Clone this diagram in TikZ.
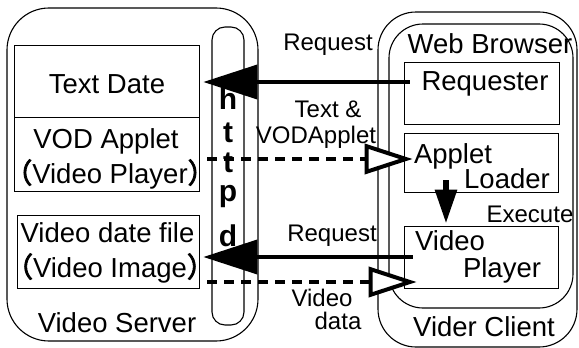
\documentclass[tikz,border=0pt]{standalone}
\usepackage{fontspec}
\setmainfont{Liberation Sans}
\newfontfamily\cjk[AutoFakeBold=3]{Noto Sans CJK SC}
\usetikzlibrary{arrows.meta}

\newcommand{\lparen}{{\cjk\bfseries （}}
\newcommand{\rparen}{{\cjk\bfseries ）}}

\tikzset{
  box/.style={draw, line width=0.8pt, inner sep=0pt},
  frame/.style={draw, line width=1.1pt, inner sep=0pt},
  big/.style={inner sep=0pt, anchor=base, font=\fontsize{27.5pt}{33pt}\selectfont},
  lbl/.style={inner sep=0pt, anchor=base, font=\fontsize{24pt}{29pt}\selectfont},
  httpdletter/.style={inner sep=0pt, anchor=base, font=\bfseries\fontsize{30pt}{36pt}\selectfont},
  solidarrow/.style={line width=4pt, -{Triangle[length=54pt,width=34pt]}},
  openarrow/.style={line width=4pt, dash pattern=on 10pt off 7pt,
    -{Triangle[open,fill=white,length=48pt,width=30pt,line width=4pt]}},
  execarrow/.style={line width=6pt, -{Triangle[length=34pt,width=21pt]}}
}

\begin{document}
\begin{tikzpicture}[x=1pt,y=-1pt]
\useasboundingbox (0,0) rectangle (579,348);

% server side
\node[frame, rounded corners=42pt, minimum width=251pt, minimum height=333pt] (server) at (132.5,174.5) {};
\node[frame, rounded corners=13pt, minimum width=32pt, minimum height=298pt] (httpd) at (228,176) {};
\node[box, minimum width=185pt, minimum height=72pt] (td) at (106.5,81) {};
\node[box, minimum width=185pt, minimum height=74pt] (vod) at (106.5,154) {};
\node[box, minimum width=182pt, minimum height=73pt] (vdf) at (108,251.5) {};

\node[big] (tdtext) at (107,93) {Text Date};
\node[big] (vodtext1) at (106,148) {VOD Applet};
\node[big] (vodtext2) at (110,183) {\lparen Video Player\rparen};
\node[big] (vdftext1) at (107.5,242) {Video date file};
\node[big] (vdftext2) at (110,277) {\lparen Video Image\rparen};
\node[big] (servertext) at (117,332) {Video Server};

\node[httpdletter] (h1) at (228,109) {h};
\node[httpdletter] (t1) at (228,142) {t};
\node[httpdletter] (t2) at (228,172) {t};
\node[httpdletter] (p1) at (228,201) {p};
\node[httpdletter] (d1) at (228,246) {d};

% client side
\node[frame, rounded corners=38pt, minimum width=199pt, minimum height=335pt] (client) at (477.5,179.5) {};
\node[frame, rounded corners=34pt, minimum width=184pt, minimum height=284pt] (browser) at (481,166) {};
\node[box, minimum width=155pt, minimum height=62pt] (req) at (481.5,93) {};
\node[box, minimum width=154pt, minimum height=59pt] (loader) at (481,162.5) {};
\node[box, minimum width=154pt, minimum height=62pt] (player) at (481,257) {};

\node[big] (browsertext) at (490,53) {Web Browser};
\node[big] (reqtext) at (485,90) {Requester};
\node[big] (loadtext1) at (453,163) {Applet};
\node[big] (loadtext2) at (507,188) {Loader};
\node[big] (playtext1) at (450,250) {Video};
\node[big] (playtext2) at (502,277) {Player};
\node[big] (clienttext) at (484,336) {Vider Client};

% connector labels
\node[lbl] (l1) at (328,50) {Request};
\node[lbl] (l2) at (328,117) {Text \&};
\node[lbl] (l3) at (316,143) {VODApplet};
\node[lbl] (l4) at (332,241) {Request};
\node[lbl] (l5) at (322,306) {Video};
\node[lbl] (l6) at (338,329) {data};
\node[lbl] (l7) at (530,222) {Execute};

% connectors
\coordinate (r1s) at ([xshift=-5pt,yshift=-1pt]req.west |- td.east);
\coordinate (r1e) at ([xshift=4pt,yshift=-1pt]td.east);
\draw[solidarrow] ([xshift=11pt]r1s) -- (r1e);

\coordinate (a1s) at ([xshift=8pt,yshift=-5pt]vod.east);
\path (a1s -| loader.west) coordinate (a1e);
\draw[openarrow] (a1s) -- ([xshift=9pt]a1e);

\coordinate (r2e) at ([xshift=4pt,yshift=-5.5pt]vdf.east);
\path (r2e -| player.west) coordinate (r2s);
\draw[solidarrow] ([xshift=9pt]r2s) -- (r2e);

\coordinate (a2s) at ([xshift=8pt,yshift=-30.5pt]vdf.east);
\path (a2s -| player.west) coordinate (a2e);
\draw[openarrow] (a2s) -- ([xshift=13pt]a2e);

\draw[execarrow] ([xshift=-35pt,yshift=12pt]loader.south) -- ([xshift=-35pt,yshift=2pt]player.north);
\end{tikzpicture}
\end{document}
